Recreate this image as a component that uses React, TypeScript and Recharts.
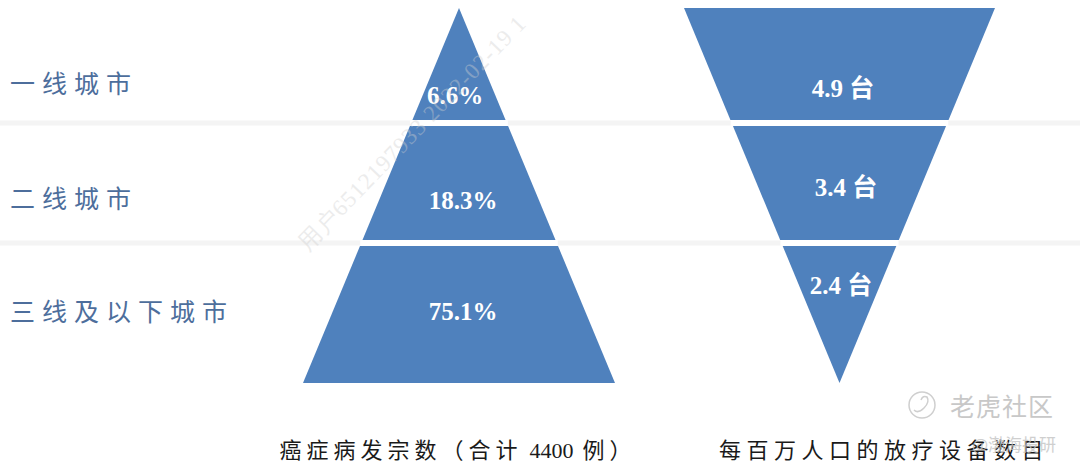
import React from 'react';
import { ComposedChart, Area, XAxis, YAxis, ReferenceLine, ReferenceDot } from 'recharts';

// ---------------- data ----------------
const tiers = ['一线城市', '二线城市', '三线及以下城市'];
const cancerShare = [6.6, 18.3, 75.1];
const devicesPerMillion = [4.9, 3.4, 2.4];
const captions = ['癌症病发宗数（合计 4400 例）', '每百万人口的放疗设备数目'];

// ---------------- layout (chart units == px) ----------------
const W = 1080;
const H = 470;
const AXIS_H = 40;
const TOP = 8;
const BASE = 383;
const bandEdges: [number, number][] = [[8, 120], [126, 240], [246, 383]];
const gapLines = [123, 243];
const pyr = { cx: 459, half: 156 };
const inv = { cx: 839.5, half: 155.5 };
const tierLabelY = [82, 197, 310];
const shareLabelPos: [number, number][] = [[455, 95], [463, 200], [463, 311]];
const deviceLabelPos: [number, number][] = [[843, 88], [846, 187], [841, 285]];
const captionX = [458, 884];

const BLUE = '#4F81BD';

const pyrHalf = (y: number) => (pyr.half * (y - TOP)) / (BASE - TOP);
const invHalf = (y: number) => (inv.half * (BASE - y)) / (BASE - TOP);

const rows: any[] = [];
bandEdges.forEach(([a, b], i) => {
  [a, b].forEach((y) => {
    rows.push({
      y,
      [`L${i}`]: [pyr.cx - pyrHalf(y), pyr.cx + pyrHalf(y)],
      [`R${i}`]: [inv.cx - invHalf(y), inv.cx + invHalf(y)],
    });
  });
});

const TierTick = (props: any) => {
  const idx = tierLabelY.indexOf(props.payload.value);
  return (
    <text
      x={10}
      y={props.y}
      dominantBaseline="central"
      textAnchor="start"
      fill="#4d6e9c"
      fontSize={25}
      letterSpacing={7}
      fontFamily="'Noto Sans CJK SC', sans-serif"
    >
      {tiers[idx]}
    </text>
  );
};

const CaptionTick = (props: any) => {
  const idx = captionX.indexOf(props.payload.value);
  const common = {
    y: props.y + 12,
    fill: '#1a1a1a',
    fontSize: 22,
    dominantBaseline: 'central' as const,
    fontFamily: "'Liberation Serif', 'Noto Sans CJK SC', serif",
  };
  if (idx === 0) {
    const [pre, rest] = captions[0].split(' 4400 ');
    return (
      <text x={props.x} textAnchor="middle" {...common}>
        <tspan letterSpacing={5}>{pre}</tspan>
        <tspan letterSpacing={0} dx={7}>4400</tspan>
        <tspan letterSpacing={5} dx={9}>{rest}</tspan>
      </text>
    );
  }
  return (
    <text x={props.x} textAnchor="middle" letterSpacing={5.5} {...common}>
      {captions[idx]}
    </text>
  );
};

const valueShape = (label: string) => (p: any) => (
  <text
    x={p.cx}
    y={p.cy}
    textAnchor="middle"
    dominantBaseline="central"
    fill="#ffffff"
    fontSize={25}
    fontWeight="bold"
    fontFamily="'Liberation Serif', 'Noto Sans CJK SC', serif"
  >
    {label}
  </text>
);

export default function App() {
  return (
    <div style={{ position: 'absolute', left: 0, top: 0, width: W, height: H, background: '#fff' }}>
      <ComposedChart
        width={W}
        height={H}
        data={rows}
        layout="vertical"
        margin={{ top: 0, right: 0, bottom: 0, left: 0 }}
      >
        <XAxis
          type="number"
          domain={[0, W]}
          ticks={captionX}
          interval={0}
          axisLine={false}
          tickLine={false}
          height={AXIS_H}
          tick={<CaptionTick />}
        />
        <YAxis
          type="number"
          dataKey="y"
          domain={[0, H - AXIS_H]}
          ticks={tierLabelY}
          interval={0}
          mirror
          axisLine={false}
          tickLine={false}
          tick={<TierTick />}
        />
        {gapLines.map((y) => (
          <ReferenceLine key={`g${y}`} y={y} stroke="#f4f4f4" strokeWidth={5} />
        ))}
        {gapLines.map((y) => (
          <ReferenceLine
            key={`wl${y}`}
            segment={[
              { x: pyr.cx - pyrHalf(y) - 1, y },
              { x: pyr.cx + pyrHalf(y) + 1, y },
            ]}
            stroke="#ffffff"
            strokeWidth={6}
          />
        ))}
        {gapLines.map((y) => (
          <ReferenceLine
            key={`wr${y}`}
            segment={[
              { x: inv.cx - invHalf(y) - 1, y },
              { x: inv.cx + invHalf(y) + 1, y },
            ]}
            stroke="#ffffff"
            strokeWidth={6}
          />
        ))}
        {tiers.map((t, i) => (
          <Area
            key={`L${i}`}
            dataKey={`L${i}`}
            type="linear"
            fill={BLUE}
            fillOpacity={1}
            stroke="none"
            dot={false}
            activeDot={false}
            isAnimationActive={false}
            name={t}
          />
        ))}
        {tiers.map((t, i) => (
          <Area
            key={`R${i}`}
            dataKey={`R${i}`}
            type="linear"
            fill={BLUE}
            fillOpacity={1}
            stroke="none"
            dot={false}
            activeDot={false}
            isAnimationActive={false}
            name={t}
          />
        ))}
        {cancerShare.map((v, i) => (
          <ReferenceDot
            key={`s${i}`}
            x={shareLabelPos[i][0]}
            y={shareLabelPos[i][1]}
            r={0}
            shape={valueShape(`${v.toFixed(1)}%`)}
          />
        ))}
        {devicesPerMillion.map((v, i) => (
          <ReferenceDot
            key={`d${i}`}
            x={deviceLabelPos[i][0]}
            y={deviceLabelPos[i][1]}
            r={0}
            shape={valueShape(`${v.toFixed(1)} 台`)}
          />
        ))}
      </ComposedChart>
      <svg
        width={W}
        height={H}
        style={{ position: 'absolute', left: 0, top: 0, pointerEvents: 'none' }}
      >
        <text
          transform="translate(308,252) rotate(-46)"
          fontSize={23}
          fill="#d0d0d0"
          opacity={0.4}
          letterSpacing={1}
          fontFamily="'Liberation Serif', serif"
        >
          用户6512197933 2022-02-19 1
        </text>
        <circle cx={922} cy={405} r={13} fill="none" stroke="#cfcfcf" strokeWidth={1.5} />
        <path d="M914 410 q4 4 10 -2 q6 -6 3 -11 q-4 -2 -6 3" fill="none" stroke="#cfcfcf" strokeWidth={1.5} />
        <text
          x={950}
          y={405}
          dominantBaseline="central"
          fontSize={25}
          fill="#c8c8c8"
          letterSpacing={1}
          fontFamily="'Noto Sans CJK SC', sans-serif"
        >
          老虎社区
        </text>
        <text
          x={972}
          y={443}
          dominantBaseline="central"
          fontSize={17}
          fill="#c4c4c4"
          opacity={0.8}
          fontFamily="'Noto Sans CJK SC', sans-serif"
        >
          @渤海投研
        </text>
      </svg>
    </div>
  );
}
